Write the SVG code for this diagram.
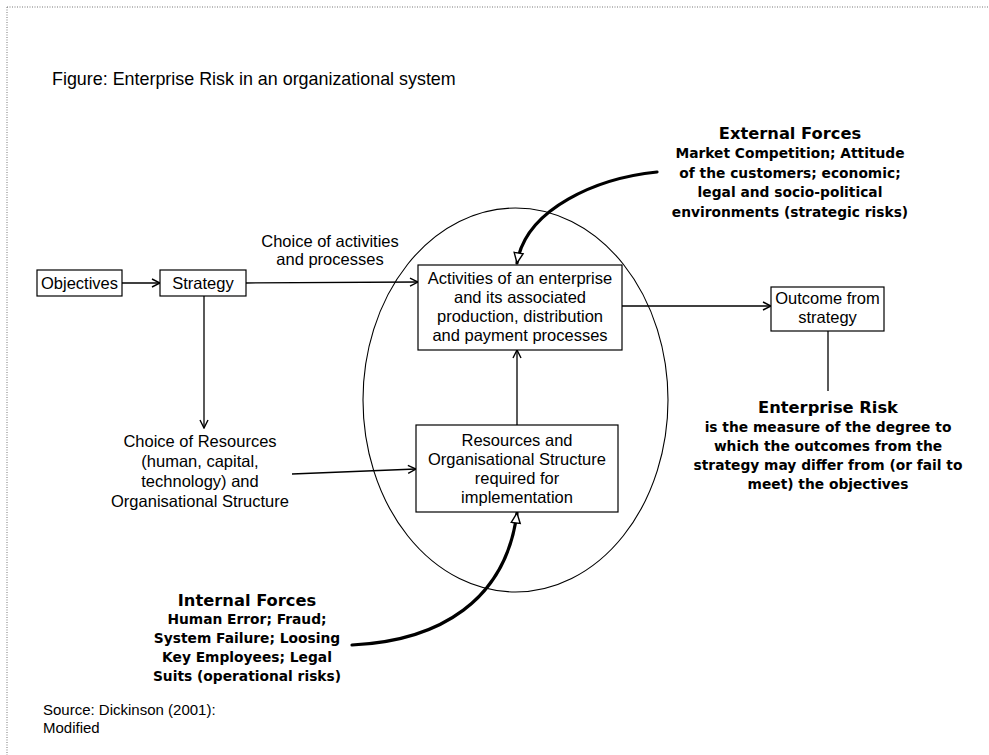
<svg xmlns="http://www.w3.org/2000/svg" width="989" height="755" viewBox="0 0 989 755">
  <style>
    .box { fill: #fff; stroke: #000; stroke-width: 1.2; }
    .lbl { font-family: "Liberation Sans", Arial, sans-serif; font-size: 16.5px; fill: #000; text-anchor: middle; }
    .cap { font-family: "Liberation Sans", Arial, sans-serif; font-size: 17.9px; fill: #000; }
    .src { font-family: "Liberation Sans", Arial, sans-serif; font-size: 15px; fill: #000; }
    .hd { font-family: "DejaVu Sans", Verdana, sans-serif; font-weight: bold; font-size: 16.3px; fill: #000; text-anchor: middle; }
    .bd { font-family: "DejaVu Sans", Verdana, sans-serif; font-weight: bold; font-size: 13.8px; fill: #000; text-anchor: middle; }
    .ln { fill: none; stroke: #000; stroke-width: 1.3; }
    .thick { fill: none; stroke: #000; stroke-width: 3.2; stroke-linecap: round; }
  </style>
  <defs>
    <marker id="arr" viewBox="0 0 10 10" refX="9" refY="5" markerWidth="10" markerHeight="10" markerUnits="userSpaceOnUse" orient="auto">
      <path d="M1,1 L9,5 L1,9" fill="none" stroke="#000" stroke-width="1.4"/>
    </marker>
    <marker id="tri" viewBox="0 0 12 12" refX="11" refY="6" markerWidth="12" markerHeight="12" markerUnits="userSpaceOnUse" orient="auto">
      <path d="M1,1.5 L11,6 L1,10.5 Z" fill="#fff" stroke="#000" stroke-width="1.4"/>
    </marker>
  </defs>

  <!-- page frame (dotted) -->
  <g id="frame" fill="none" stroke="#777" stroke-width="1" stroke-dasharray="1,1.5">
    <line x1="7" y1="7" x2="989" y2="7"/>
    <line x1="7" y1="7" x2="7" y2="755"/>
  </g>

  <text id="caption" class="cap" x="52" y="85">Figure: Enterprise Risk in an organizational system</text>

  <!-- organisational system boundary -->
  <ellipse id="system" cx="515.5" cy="400" rx="152.5" ry="192" fill="none" stroke="#000" stroke-width="1.1"/>

  <g id="connectors">
    <line class="ln" x1="122" y1="283" x2="160" y2="283" marker-end="url(#arr)"/>
    <line class="ln" x1="246" y1="283" x2="418" y2="282" marker-end="url(#arr)"/>
    <line class="ln" x1="204" y1="296" x2="204" y2="428" marker-end="url(#arr)"/>
    <line class="ln" x1="292" y1="474" x2="416" y2="469" marker-end="url(#arr)"/>
    <line class="ln" x1="517" y1="425" x2="517" y2="350" marker-end="url(#arr)"/>
    <line class="ln" x1="622" y1="306" x2="771" y2="306" marker-end="url(#arr)"/>
    <line class="ln" x1="828" y1="331" x2="828" y2="391"/>
    <path class="thick" d="M657,172 C598,178 526,208 517,263" marker-end="url(#tri)"/>
    <path class="thick" d="M352,645 C440,641 506,600 517,513" marker-end="url(#tri)"/>
  </g>

  <g id="objectives">
    <rect class="box" x="37" y="270" width="85" height="26"/>
    <text class="lbl" x="79.5" y="289">Objectives</text>
  </g>

  <g id="strategy">
    <rect class="box" x="160" y="270" width="86" height="26"/>
    <text class="lbl" x="203" y="289">Strategy</text>
  </g>

  <g id="choice-activities">
    <text class="lbl" x="330" y="247">Choice of activities</text>
    <text class="lbl" x="330" y="265">and processes</text>
  </g>

  <g id="activities">
    <rect class="box" x="418" y="265" width="204" height="85"/>
    <text class="lbl" x="520" y="284">Activities of an enterprise</text>
    <text class="lbl" x="520" y="303">and its associated</text>
    <text class="lbl" x="520" y="322">production, distribution</text>
    <text class="lbl" x="520" y="341">and payment processes</text>
  </g>

  <g id="outcome">
    <rect class="box" x="771" y="287" width="113" height="44"/>
    <text class="lbl" x="827.5" y="304">Outcome from</text>
    <text class="lbl" x="827.5" y="323">strategy</text>
  </g>

  <g id="choice-resources">
    <text class="lbl" x="200" y="447">Choice of Resources</text>
    <text class="lbl" x="200" y="467">(human, capital,</text>
    <text class="lbl" x="200" y="487">technology) and</text>
    <text class="lbl" x="200" y="507">Organisational Structure</text>
  </g>

  <g id="resources">
    <rect class="box" x="416" y="425" width="202" height="87"/>
    <text class="lbl" x="517" y="446">Resources and</text>
    <text class="lbl" x="517" y="465">Organisational Structure</text>
    <text class="lbl" x="517" y="484">required for</text>
    <text class="lbl" x="517" y="503">implementation</text>
  </g>

  <g id="external-forces">
    <text class="hd" x="790" y="139">External Forces</text>
    <text class="bd" x="790" y="158">Market Competition; Attitude</text>
    <text class="bd" x="790" y="178">of the customers; economic;</text>
    <text class="bd" x="790" y="197">legal and socio-political</text>
    <text class="bd" x="790" y="217">environments (strategic risks)</text>
  </g>

  <g id="enterprise-risk">
    <text class="hd" x="828" y="413">Enterprise Risk</text>
    <text class="bd" x="828" y="432">is the measure of the degree to</text>
    <text class="bd" x="828" y="451">which the outcomes from the</text>
    <text class="bd" x="828" y="470">strategy may differ from (or fail to</text>
    <text class="bd" x="828" y="489">meet) the objectives</text>
  </g>

  <g id="internal-forces">
    <text class="hd" x="247" y="606">Internal Forces</text>
    <text class="bd" x="247" y="624">Human Error; Fraud;</text>
    <text class="bd" x="247" y="643">System Failure; Loosing</text>
    <text class="bd" x="247" y="662">Key Employees; Legal</text>
    <text class="bd" x="247" y="681">Suits (operational risks)</text>
  </g>

  <g id="source">
    <text class="src" x="43" y="715">Source: Dickinson (2001):</text>
    <text class="src" x="43" y="733">Modified</text>
  </g>
</svg>
